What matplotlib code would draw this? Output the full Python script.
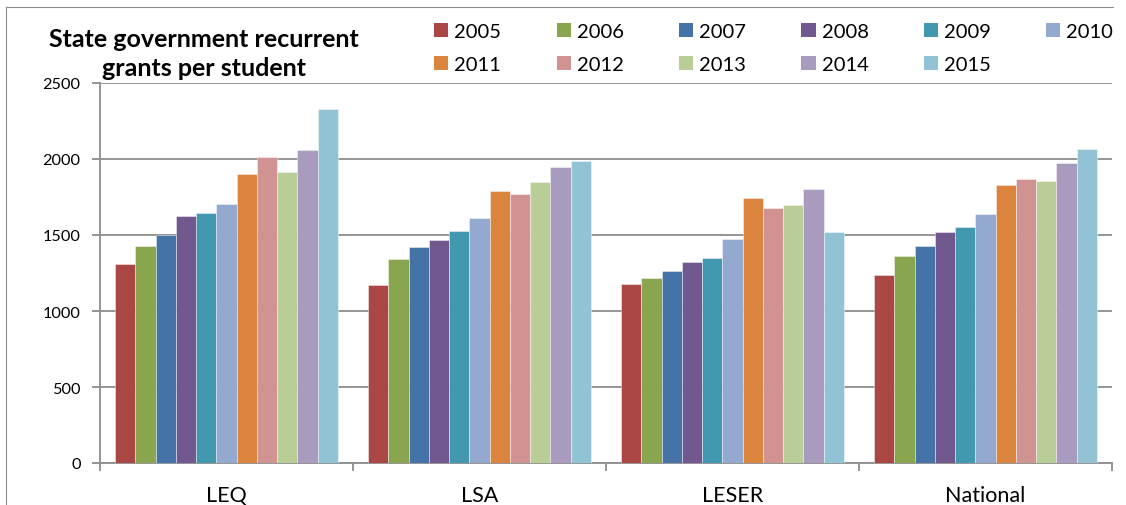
import matplotlib
matplotlib.use("Agg")
import matplotlib.pyplot as plt
import numpy as np
from matplotlib.patches import Patch
from matplotlib.lines import Line2D

plt.rcParams['font.family'] = ['Lato', 'DejaVu Sans']

categories = ["LEQ", "LSA", "LESER", "National"]
years = ["2005", "2006", "2007", "2008", "2009", "2010",
         "2011", "2012", "2013", "2014", "2015"]
values = {
    "2005": [1310, 1170, 1180, 1240],
    "2006": [1430, 1345, 1220, 1365],
    "2007": [1500, 1420, 1265, 1430],
    "2008": [1625, 1470, 1325, 1520],
    "2009": [1645, 1525, 1350, 1555],
    "2010": [1705, 1610, 1475, 1635],
    "2011": [1900, 1790, 1745, 1830],
    "2012": [2010, 1770, 1680, 1870],
    "2013": [1915, 1850, 1700, 1855],
    "2014": [2060, 1950, 1805, 1975],
    "2015": [2330, 1985, 1520, 2065],
}
colors = ["#AA4643", "#89A54E", "#4572A7", "#71588F", "#4198AF", "#93A9CF",
          "#DB843D", "#D19392", "#B9CD96", "#A99BBD", "#91C3D5"]
yticks = [0, 500, 1000, 1500, 2000, 2500]
title_lines = ["State government recurrent", "grants per student"]

W, H = 1126, 506
fig = plt.figure(figsize=(W / 100, H / 100), dpi=100)
ax = fig.add_axes([100 / W, 1 - 464 / H, (1112 - 100) / W, (464 - 84) / H])

grid_c = "#8C8C8C"
x = np.arange(len(categories))
bw = 0.08
handles = []
for j, yr in enumerate(years):
    ax.bar(x + (j - 5) * bw, values[yr], width=bw, color=colors[j],
           edgecolor=(1, 1, 1, 0.6), linewidth=0.5, label=yr, zorder=3)
    handles.append(Patch(facecolor=colors[j], edgecolor='none', label=yr))

ax.set_xlim(-0.5, len(categories) - 0.5)
ax.set_ylim(0, 2500)
ax.set_yticks(yticks)
ax.set_yticklabels([str(v) for v in yticks])
ax.yaxis.grid(True, color=grid_c, linewidth=1.3, zorder=0)
ax.set_axisbelow(True)

ax.set_xticks(np.arange(-0.5, len(categories), 1.0))
ax.set_xticklabels([])
ax.set_xticks(x, minor=True)
ax.set_xticklabels(categories, minor=True)
ax.tick_params(axis='x', which='major', length=6, width=1.3, color=grid_c, direction='out')
ax.tick_params(axis='x', which='minor', length=0, pad=16, labelsize=15.5)
ax.tick_params(axis='y', length=6, width=1.3, color=grid_c, direction='out', pad=8, labelsize=11.7)

for s in ['top', 'right']:
    ax.spines[s].set_visible(False)
for s in ['left', 'bottom']:
    ax.spines[s].set_color(grid_c)
    ax.spines[s].set_linewidth(1.3)

# legend: row-major order via column-wise fill
order = [0, 6, 1, 7, 2, 8, 3, 9, 4, 10, 5]
fig.legend([handles[i] for i in order], [years[i] for i in order],
           ncol=6, loc='upper left', bbox_to_anchor=(434 / W, 1 - 24 / H),
           frameon=False, fontsize=14.5, handlelength=0.7, handleheight=0.7,
           handletextpad=0.3, columnspacing=2.75, labelspacing=0.8,
           borderpad=0, borderaxespad=0)

# title as two centred lines
fig.text(203.5 / W, 1 - 47 / H, title_lines[0], ha='center', va='baseline',
         fontsize=18, fontweight='bold')
fig.text(203.5 / W, 1 - 76 / H, title_lines[1], ha='center', va='baseline',
         fontsize=18, fontweight='bold')

# outer chart border (top and left visible)
fig.add_artist(Line2D([6 / W, 1113 / W], [1 - 8 / H, 1 - 8 / H], color=grid_c, lw=0.8,
                      transform=fig.transFigure))
fig.add_artist(Line2D([6 / W, 6 / W], [1 - 8 / H, 0], color=grid_c, lw=0.8,
                      transform=fig.transFigure))

fig.savefig("out.png", dpi=100)
